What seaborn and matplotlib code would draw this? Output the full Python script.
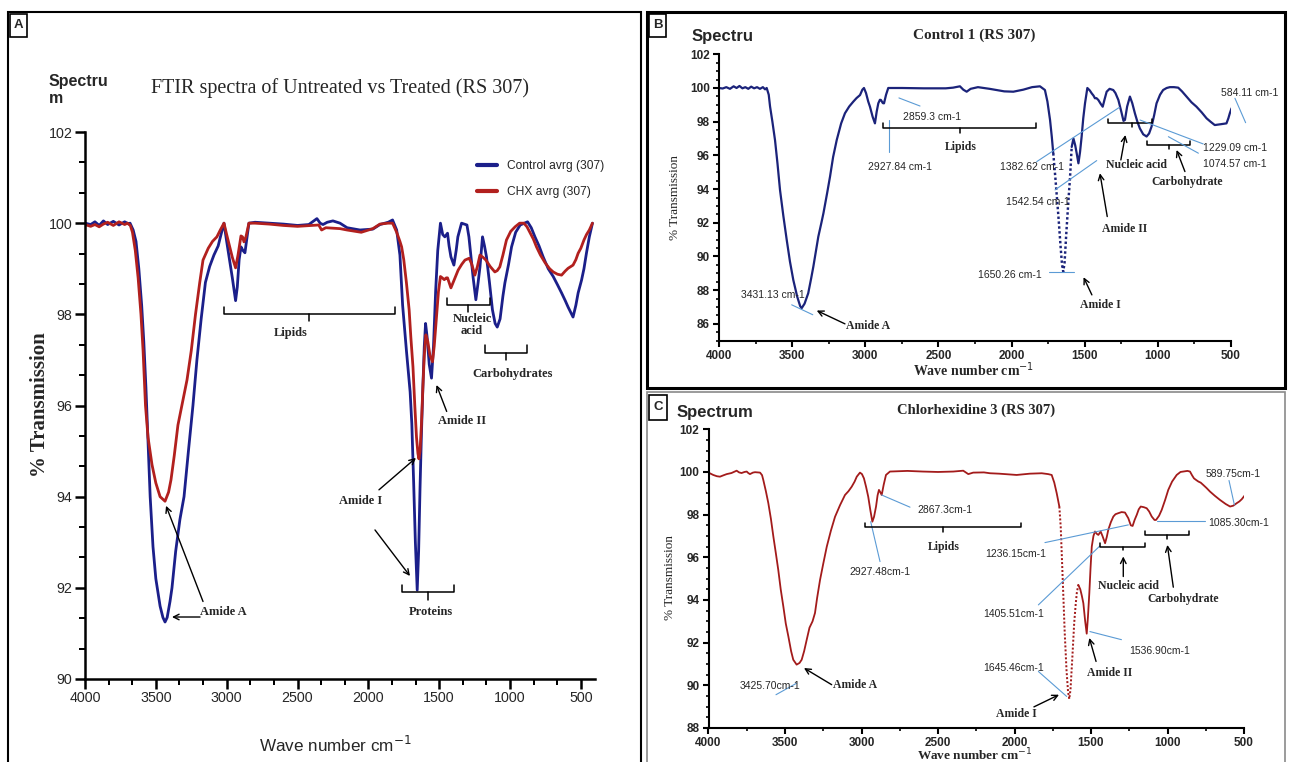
import numpy as np
import pandas as pd
import matplotlib
matplotlib.use("Agg")
import matplotlib.pyplot as plt
from matplotlib.patches import Rectangle
from matplotlib.ticker import MultipleLocator
from matplotlib import font_manager
import seaborn as sns

W, H = 1289, 762

# ---- panel A: averaged spectra (control vs CHX) ----
avg_ctrl_wn = [4000, 3960, 3930, 3900, 3870, 3840, 3800, 3760, 3720, 3690,
               3682, 3660, 3640, 3620, 3600, 3585, 3570, 3555, 3540, 3520,
               3500, 3470, 3450, 3435, 3420, 3400, 3386, 3360, 3330, 3301,
               3270, 3238, 3210, 3180, 3150, 3120, 3090, 3060, 3040, 3019,
               3000, 2980, 2960, 2937, 2925, 2912, 2899, 2885, 2871, 2860,
               2843, 2800, 2700, 2600, 2500, 2420, 2363, 2340, 2320, 2290,
               2250, 2200, 2150, 2059, 1968, 1918, 1860, 1829, 1800, 1777,
               1758, 1731, 1705, 1693, 1680, 1668, 1655, 1645, 1635, 1625,
               1615, 1605, 1596, 1585, 1570, 1554, 1540, 1525, 1510, 1491,
               1475, 1460, 1441, 1430, 1417, 1396, 1380, 1368, 1342, 1304,
               1290, 1278, 1260, 1241, 1225, 1212, 1194, 1180, 1166, 1145,
               1124, 1105, 1090, 1070, 1050, 1036, 1010, 989, 960, 928,
               876, 850, 824, 795, 766, 730, 695, 665, 636, 610,
               590, 555, 535, 519, 495, 478, 460, 440, 418]
avg_ctrl_t = [100.0, 99.97, 100.03, 99.95, 100.05, 99.97, 100.04, 99.96, 100.03, 99.98,
              100.0, 99.85, 99.6, 99.0, 98.2, 97.4, 96.4, 95.2, 94.0, 92.9,
              92.2, 91.6, 91.35, 91.25, 91.35, 91.7, 92.0, 92.8, 93.5, 94.0,
              95.0, 96.0, 97.0, 97.9, 98.7, 99.05, 99.3, 99.5, 99.75, 100.0,
              99.6, 99.2, 98.8, 98.3, 98.6, 99.2, 99.48, 99.4, 99.35, 99.6,
              100.0, 100.02, 100.0, 99.98, 99.95, 99.97, 100.1, 100.0, 99.97, 100.02,
              100.05, 100.0, 99.9, 99.85, 99.87, 99.97, 100.02, 100.07, 99.85, 99.3,
              98.2, 97.2, 96.3, 95.6, 94.3, 93.0, 91.95, 92.8, 94.2, 95.4,
              96.4, 97.3, 97.8, 97.5, 96.9, 96.6, 97.3, 98.5, 99.4, 100.0,
              99.75, 99.7, 99.78, 99.5, 99.26, 99.08, 99.4, 99.7, 100.0, 99.96,
              99.7, 99.34, 98.8, 98.32, 98.7, 99.04, 99.7, 99.5, 99.26, 98.7,
              98.1, 97.8, 97.72, 97.9, 98.4, 98.69, 99.1, 99.48, 99.8, 99.96,
              100.03, 99.9, 99.7, 99.5, 99.26, 99.0, 98.83, 98.65, 98.47, 98.3,
              98.16, 97.94, 98.2, 98.47, 98.75, 99.0, 99.35, 99.7, 100.0]

avg_chx_wn = [4000, 3960, 3930, 3900, 3870, 3840, 3800, 3760, 3720, 3700,
              3680, 3665, 3645, 3625, 3605, 3590, 3573, 3555, 3527, 3500,
              3470, 3435, 3410, 3393, 3370, 3344, 3310, 3280, 3250, 3220,
              3190, 3167, 3130, 3100, 3069, 3045, 3019, 3000, 2980, 2960,
              2937, 2920, 2899, 2888, 2878, 2864, 2843, 2800, 2700, 2600,
              2500, 2400, 2350, 2330, 2300, 2200, 2150, 2050, 1968, 1918,
              1860, 1829, 1800, 1777, 1765, 1750, 1731, 1712, 1700, 1685,
              1672, 1660, 1650, 1643, 1635, 1625, 1615, 1605, 1594, 1580,
              1565, 1547, 1535, 1520, 1505, 1491, 1478, 1464, 1450, 1441,
              1430, 1417, 1395, 1366, 1340, 1318, 1288, 1270, 1248, 1230,
              1212, 1190, 1170, 1140, 1107, 1090, 1072, 1050, 1025, 995,
              964, 932, 902, 880, 860, 835, 813, 785, 752, 720,
              695, 665, 636, 610, 590, 570, 555, 535, 519, 500,
              478, 460, 440, 418]
avg_chx_t = [99.97, 99.93, 99.97, 99.92, 99.98, 100.02, 99.95, 100.03, 99.97, 100.0,
             99.95, 99.8, 99.4, 98.8, 98.0, 97.2, 96.0, 95.3, 94.7, 94.3,
             94.0, 93.9, 94.1, 94.37, 94.9, 95.57, 96.1, 96.56, 97.2, 98.0,
             98.7, 99.19, 99.45, 99.6, 99.7, 99.85, 100.0, 99.75, 99.5, 99.25,
             99.02, 99.3, 99.72, 99.7, 99.59, 99.7, 100.0, 100.0, 99.98, 99.95,
             99.93, 99.95, 99.96, 99.85, 99.9, 99.88, 99.85, 99.8, 99.88, 99.98,
             100.0, 100.0, 99.8, 99.6, 99.48, 99.2, 98.69, 98.1, 97.5, 96.85,
             96.0, 95.3, 94.95, 94.83, 95.0, 95.6, 96.4, 97.1, 97.55, 97.4,
             97.1, 96.96, 97.3, 97.9, 98.5, 98.83, 98.8, 98.76, 98.8, 98.8,
             98.7, 98.58, 98.75, 98.97, 99.1, 99.19, 99.23, 99.1, 98.86, 99.05,
             99.3, 99.25, 99.19, 99.05, 98.93, 98.96, 99.04, 99.3, 99.63, 99.82,
             99.92, 100.0, 100.0, 99.92, 99.8, 99.65, 99.48, 99.3, 99.13, 99.0,
             98.93, 98.88, 98.86, 98.95, 99.01, 99.05, 99.08, 99.2, 99.34, 99.45,
             99.63, 99.75, 99.85, 100.0]

legend_labels = ["Control avrg (307)", "CHX avrg (307)"]

# ---- panel B: Control 1 ----
ctrl1_wn = [4000, 3975, 3950, 3925, 3900, 3880, 3860, 3840, 3820, 3800,
            3780, 3760, 3740, 3720, 3700, 3685, 3674, 3660, 3651, 3635,
            3617, 3600, 3583, 3560, 3537, 3515, 3492, 3465, 3445, 3435,
            3415, 3390, 3370, 3355, 3321, 3300, 3286, 3260, 3241, 3220,
            3195, 3165, 3139, 3110, 3082, 3060, 3036, 3020, 3009, 2995,
            2980, 2968, 2950, 2934, 2922, 2911, 2900, 2893, 2880, 2872,
            2858, 2843, 2750, 2600, 2450, 2400, 2353, 2330, 2307, 2280,
            2230, 2150, 2050, 1988, 1920, 1860, 1806, 1772, 1755, 1737,
            1725, 1715, 1700, 1680, 1665, 1655, 1647, 1638, 1625, 1610,
            1601, 1589, 1577, 1565, 1555, 1543, 1532, 1521, 1510, 1498,
            1482, 1465, 1452, 1440, 1430, 1420, 1407, 1390, 1377, 1365,
            1350, 1330, 1305, 1290, 1270, 1250, 1235, 1225, 1210, 1191,
            1175, 1157, 1140, 1123, 1100, 1077, 1060, 1043, 1025, 1009,
            985, 964, 940, 918, 890, 861, 835, 804, 770, 736,
            700, 667, 640, 611, 570, 531, 518, 508, 496]
ctrl1_t = [100.0, 99.97, 100.05, 99.95, 100.1, 100.0, 100.12, 99.98, 100.05, 99.95,
           100.08, 99.98, 100.05, 99.95, 100.05, 99.92, 100.0, 99.6, 98.9, 98.0,
           96.9, 95.5, 93.95, 92.4, 90.98, 89.7, 88.6, 87.6, 87.05, 86.93,
           87.2, 87.82, 88.7, 89.4, 91.18, 92.0, 92.57, 93.8, 94.74, 95.9,
           96.92, 97.9, 98.5, 98.9, 99.19, 99.4, 99.58, 99.9, 100.0, 99.7,
           99.2, 98.89, 98.3, 97.9, 98.6, 99.09, 99.3, 99.29, 99.1, 99.09,
           99.6, 100.0, 100.0, 99.98, 99.98, 100.02, 100.1, 99.9, 99.78, 99.95,
           100.05, 99.95, 99.8, 99.78, 99.9, 100.05, 100.1, 99.88, 99.2, 98.1,
           97.1, 96.13, 94.6, 92.4, 90.6, 89.5, 89.1, 89.6, 91.5, 93.5,
           94.6, 96.5, 97.0, 96.6, 96.13, 95.53, 96.2, 97.12, 98.2, 99.09,
           100.0, 99.85, 99.68, 99.55, 99.39, 99.4, 99.29, 99.05, 98.89, 99.3,
           99.78, 99.95, 99.88, 99.7, 99.29, 98.6, 98.05, 98.1, 98.9, 99.49,
           99.1, 98.5, 98.0, 97.6, 97.25, 97.12, 97.3, 97.71, 98.4, 99.09,
           99.6, 99.88, 100.0, 100.05, 100.05, 100.02, 99.8, 99.49, 99.15, 98.89,
           98.55, 98.2, 98.0, 97.8, 97.85, 97.9, 98.2, 98.5, 98.8]

# ---- panel C: Chlorhexidine 3 ----
chx3_wn = [4000, 3969, 3945, 3925, 3900, 3881, 3850, 3816, 3800, 3784,
           3765, 3750, 3740, 3729, 3710, 3696, 3663, 3650, 3642, 3625,
           3609, 3592, 3576, 3560, 3544, 3528, 3511, 3495, 3478, 3460,
           3446, 3424, 3405, 3391, 3375, 3358, 3340, 3320, 3304, 3290,
           3271, 3250, 3227, 3200, 3173, 3140, 3108, 3085, 3064, 3045,
           3031, 3010, 2997, 2984, 2970, 2956, 2942, 2929, 2918, 2905,
           2895, 2886, 2877, 2868, 2855, 2840, 2814, 2700, 2600, 2500,
           2400, 2335, 2302, 2270, 2200, 2160, 2100, 1986, 1900, 1822,
           1780, 1757, 1740, 1724, 1707, 1698, 1685, 1672, 1660, 1650,
           1642, 1634, 1622, 1610, 1600, 1593, 1583, 1570, 1560, 1550,
           1538, 1528, 1520, 1511, 1503, 1495, 1484, 1474, 1462, 1452,
           1437, 1425, 1408, 1397, 1387, 1370, 1354, 1340, 1321, 1300,
           1278, 1256, 1240, 1228, 1215, 1201, 1188, 1175, 1155, 1136,
           1120, 1103, 1085, 1075, 1055, 1038, 1015, 995, 970, 940,
           915, 897, 870, 853, 840, 827, 812, 798, 783, 766,
           745, 722, 690, 657, 620, 591, 570, 547, 530, 515,
           493]
chx3_t = [99.97, 99.86, 99.8, 99.78, 99.85, 99.9, 99.95, 100.06, 99.98, 99.95,
          100.0, 100.02, 99.95, 99.9, 99.97, 99.99, 99.97, 99.85, 99.63, 99.1,
          98.54, 97.8, 96.97, 96.2, 95.41, 94.5, 93.7, 92.9, 92.29, 91.6,
          91.2, 90.97, 91.05, 91.2, 91.6, 92.14, 92.7, 93.0, 93.39, 94.1,
          94.94, 95.7, 96.5, 97.25, 97.9, 98.45, 98.92, 99.1, 99.31, 99.55,
          99.78, 99.97, 99.9, 99.7, 99.3, 98.84, 98.2, 97.67, 97.9, 98.38,
          98.9, 99.16, 99.05, 98.92, 99.4, 99.86, 100.02, 100.05, 100.02, 100.0,
          100.02, 100.06, 99.9, 99.97, 99.98, 99.94, 99.92, 99.86, 99.92, 99.94,
          99.9, 99.86, 99.5, 99.0, 98.38, 97.44, 95.0, 92.5, 90.7, 89.7,
          89.36, 89.8, 91.3, 92.9, 93.8, 94.32, 94.71, 94.5, 94.2, 93.85,
          93.0, 92.42, 93.2, 94.32, 95.5, 96.5, 97.0, 97.21, 97.1, 97.05,
          97.21, 97.0, 96.66, 96.95, 97.29, 97.65, 97.91, 98.02, 98.07, 98.12,
          98.1, 97.83, 97.5, 97.47, 97.75, 97.99, 98.25, 98.38, 98.35, 98.3,
          98.15, 97.91, 97.75, 97.75, 97.95, 98.22, 98.7, 99.16, 99.55, 99.86,
          100.0, 100.02, 100.05, 100.02, 99.85, 99.7, 99.62, 99.55, 99.5, 99.39,
          99.25, 99.08, 98.88, 98.69, 98.5, 98.38, 98.42, 98.54, 98.62, 98.72,
          98.92]

x_ticks = [4000, 3500, 3000, 2500, 2000, 1500, 1000, 500]

BLUE, RED = "#1b1f8a", "#b2201e"
B_COL, C_COL = "#1b237a", "#a31b1b"
LEAD = "#5b9bd5"

sns.set_theme(style="ticks")
names = {f.name for f in font_manager.fontManager.ttflist}
NARROW = "Liberation Sans Narrow" if "Liberation Sans Narrow" in names else "Liberation Sans"
ns = 1.0 if NARROW == "Liberation Sans Narrow" else 0.82
SERIF, SANS = "Liberation Serif", "Liberation Sans"
plt.rcParams["font.family"] = [SANS, "DejaVu Sans"]


def fx(px):
    return px / W


def fy(py):
    return 1 - py / H


fig = plt.figure(figsize=(W / 100, H / 100), dpi=100)


def axes_at(x0, y0, x1, y1):
    return fig.add_axes([fx(x0), fy(y1), (x1 - x0) / W, (y1 - y0) / H])


def style(ax, xlim, ylim, yticks, xminor, yminor, fs, fam, wt, lw, maj, mnr):
    ax.set_xlim(*xlim)
    ax.set_ylim(*ylim)
    ax.set_xticks(x_ticks, labels=[str(v) for v in x_ticks], fontsize=fs, family=fam, fontweight=wt)
    ax.set_yticks(yticks, labels=[str(v) for v in yticks], fontsize=fs, family=fam, fontweight=wt)
    ax.xaxis.set_minor_locator(MultipleLocator(xminor))
    ax.yaxis.set_minor_locator(MultipleLocator(yminor))
    sns.despine(ax=ax)
    for s in ["left", "bottom"]:
        ax.spines[s].set_linewidth(lw)
        ax.spines[s].set_color("black")
    ax.tick_params(which="major", length=maj, width=lw, direction="out", color="black", pad=2)
    ax.tick_params(which="minor", length=mnr, width=lw * 0.8, direction="out", color="black")
    ax.set_xlabel("")
    ax.set_ylabel("")
    ax.patch.set_alpha(0)


def bracket(ax, x0, x1, y, up, down, xc=None, lw=1.1):
    xc = (x0 + x1) / 2 if xc is None else xc
    ax.plot([x0, x0, x1, x1], [up, y, y, up], color="black", lw=lw, clip_on=False)
    ax.plot([xc, xc], [y, down], color="black", lw=lw, clip_on=False)


def arrow(ax, tail, head, lw=1.0):
    ax.annotate("", xy=head, xytext=tail, annotation_clip=False,
                arrowprops=dict(arrowstyle="->", color="black", lw=lw,
                                shrinkA=0, shrinkB=0, mutation_scale=10))


def leader(ax, p0, p1):
    ax.plot([p0[0], p1[0]], [p0[1], p1[1]], color=LEAD, lw=0.8, clip_on=False)


def label(ax, x, y, s, size=8.5, **kw):
    ax.text(x, y, s, family=SERIF, fontweight="bold", fontsize=size, ha="center", va="center", **kw)


def peak(ax, x, y, s):
    ax.text(x, y, s, family=SANS, fontsize=7.5, ha="center", va="center")


# ---------------- frames ----------------
fig.add_artist(Rectangle((fx(8), fy(775)), (641 - 8) / W, (775 - 12) / H, transform=fig.transFigure,
                         fill=False, lw=1.5, ec="black"))
fig.add_artist(Rectangle((fx(647), fy(388)), (1285 - 647) / W, (388 - 12) / H, transform=fig.transFigure,
                         fill=False, lw=2.2, ec="black"))
fig.add_artist(Rectangle((fx(647), fy(775)), (1285 - 647) / W, (775 - 392) / H, transform=fig.transFigure,
                         fill=False, lw=1.2, ec="#8a8a8a"))
for lab, (x0, y0, x1, y1) in zip("ABC", [(10, 14, 27, 37), (649, 14, 666, 37), (649, 395, 667, 420)]):
    fig.add_artist(Rectangle((fx(x0), fy(y1)), (x1 - x0) / W, (y1 - y0) / H, transform=fig.transFigure,
                             fill=True, fc="white", lw=1.2, ec="black"))
    fig.text(fx((x0 + x1) / 2), fy((y0 + y1) / 2), lab, family=SANS, fontweight="bold",
             fontsize=9.5, ha="center", va="center")

# ---------------- panel A ----------------
ax_a = axes_at(85, 132, 595, 679)
df_a = pd.concat([
    pd.DataFrame({"wn": avg_ctrl_wn, "T": avg_ctrl_t, "sample": legend_labels[0]}),
    pd.DataFrame({"wn": avg_chx_wn, "T": avg_chx_t, "sample": legend_labels[1]}),
])
sns.lineplot(data=df_a, x="wn", y="T", hue="sample", hue_order=legend_labels,
             palette=[BLUE, RED], estimator=None, sort=False, lw=2.0, ax=ax_a)
style(ax_a, (4000, 400), (90, 102), list(range(90, 103, 2)), 500 / 3, 2 / 3,
      12.5 * ns, NARROW, "normal", 1.8, 7, 4.5)
handles, labels = ax_a.get_legend_handles_labels()
leg = ax_a.legend(handles, labels, loc="upper left", bbox_to_anchor=(fx(477), fy(160)),
                  bbox_transform=fig.transFigure, frameon=False, borderpad=0, borderaxespad=0,
                  handlelength=1.7, handletextpad=0.8, labelspacing=1.15,
                  prop={"family": NARROW, "size": 10.5 * ns})
for h in leg.legend_handles:
    h.set_linewidth(3)

fig.text(fx(340), fy(88), "FTIR spectra of Untreated vs Treated (RS 307)", family=SERIF,
         fontsize=14.5, ha="center", va="center")
fig.text(fx(49), fy(90), "Spectru\nm", family=SANS, fontweight="bold", fontsize=11.5,
         ha="left", va="center", linespacing=1.1)
fig.text(fx(335), fy(745), "Wave number cm$^{-1}$", family=NARROW, fontsize=15 * ns,
         ha="center", va="center")
fig.text(fx(40), fy(405), "% Transmission", family=SERIF, fontweight="bold", fontsize=15,
         rotation=90, ha="center", va="center")

bracket(ax_a, 3019, 1812, 98.0, 98.15, 97.85, xc=2418)
label(ax_a, 2546, 97.6, "Lipids", 9)
bracket(ax_a, 1445, 1140, 98.2, 98.36, 98.05, xc=1297)
label(ax_a, 1268, 97.77, "Nucleic\nacid", 9, linespacing=1.0)
bracket(ax_a, 1177, 881, 97.15, 97.33, 97.0, xc=1029)
label(ax_a, 980, 96.7, "Carbohydrates", 9)
label(ax_a, 1340, 95.66, "Amide II", 9)
arrow(ax_a, (1447, 95.87), (1519, 96.45))
label(ax_a, 2052, 93.9, "Amide I", 9)
arrow(ax_a, (1925, 94.15), (1664, 94.85))
arrow(ax_a, (1953, 93.27), (1706, 92.26))
bracket(ax_a, 1763, 1396, 91.9, 92.07, 91.74, xc=1579)
label(ax_a, 1558, 91.47, "Proteins", 9)
label(ax_a, 3026, 91.47, "Amide A", 9)
arrow(ax_a, (3188, 91.36), (3386, 91.36))
arrow(ax_a, (3167, 91.7), (3428, 93.8))


# ---------------- panels B and C ----------------
def spectrum(ax, wn, t, lo, hi, color, lw):
    wn = np.asarray(wn)
    t = np.asarray(t)
    left, mid, right = wn >= hi, (wn <= hi) & (wn >= lo), wn <= lo
    sns.lineplot(x=wn[left], y=t[left], color=color, lw=lw, estimator=None, sort=False, ax=ax)
    sns.lineplot(x=wn[mid], y=t[mid], color=color, lw=lw * 1.1, linestyle=(0, (1, 1)),
                 estimator=None, sort=False, ax=ax)
    sns.lineplot(x=wn[right], y=t[right], color=color, lw=lw, estimator=None, sort=False, ax=ax)


ax_b = axes_at(719, 54.3, 1231, 340.7)
spectrum(ax_b, ctrl1_wn, ctrl1_t, 1589, 1715, B_COL, 1.6)
style(ax_b, (4000, 500), (85, 102), list(range(86, 103, 2)), 250, 0.5,
      8.5, SANS, "bold", 1.5, 4.5, 2.5)
fig.text(fx(692), fy(36), "Spectru", family=SANS, fontweight="bold", fontsize=12, ha="left", va="center")
fig.text(fx(974), fy(35), "Control 1 (RS 307)", family=SERIF, fontweight="bold", fontsize=11,
         ha="center", va="center")
fig.text(fx(974), fy(370), "Wave number cm$^{-1}$", family=SERIF, fontweight="bold", fontsize=10,
         ha="center", va="center")
fig.text(fx(675), fy(197), "% Transmission", family=SERIF, fontsize=9.5, rotation=90,
         ha="center", va="center")

peak(ax_b, 2544, 98.28, "2859.3 cm-1")
leader(ax_b, (2770, 99.41), (2626, 98.93))
peak(ax_b, 2763, 95.33, "2927.84 cm-1")
leader(ax_b, (2836, 98.1), (2836, 96.2))
bracket(ax_b, 2881, 1833, 97.6, 97.9, 97.3, xc=2354)
label(ax_b, 2347, 96.52, "Lipids")
peak(ax_b, 1862, 95.3, "1382.62 cm-1")
leader(ax_b, (1828, 95.63), (1263, 98.85))
peak(ax_b, 1817, 93.26, "1542.54 cm-1")
leader(ax_b, (1703, 93.95), (1418, 95.69))
peak(ax_b, 2012, 88.91, "1650.26 cm-1")
leader(ax_b, (1746, 89.1), (1570, 89.1))
label(ax_b, 1391, 87.13, "Amide I")
arrow(ax_b, (1451, 87.72), (1508, 88.77))
label(ax_b, 1228, 91.64, "Amide II")
arrow(ax_b, (1346, 92.37), (1396, 94.94))
label(ax_b, 1145, 95.43, "Nucleic acid")
arrow(ax_b, (1253, 95.73), (1222, 97.21))
bracket(ax_b, 1339, 1043, 97.9, 98.14, 97.67, xc=1178)
bracket(ax_b, 1077, 778, 96.62, 96.87, 96.38, xc=922)
label(ax_b, 803, 94.44, "Carbohydrate")
arrow(ax_b, (815, 95.04), (872, 96.32))
peak(ax_b, 473, 96.42, "1229.09 cm-1")
leader(ax_b, (1122, 98.1), (690, 96.68))
peak(ax_b, 473, 95.47, "1074.57 cm-1")
leader(ax_b, (928, 97.11), (723, 96.13))
peak(ax_b, 370, 99.68, "584.11 cm-1")
leader(ax_b, (473, 99.39), (400, 97.94))
peak(ax_b, 3629, 87.72, "3431.13 cm-1")
leader(ax_b, (3503, 87.13), (3359, 86.54))
label(ax_b, 2979, 85.88, "Amide A")
arrow(ax_b, (3139, 86.0), (3332, 86.79))

ax_c = axes_at(708.5, 429.3, 1244, 728)
spectrum(ax_c, chx3_wn, chx3_t, 1583, 1707, C_COL, 1.3)
style(ax_c, (4000, 500), (88, 102), list(range(88, 103, 2)), 250, 0.5,
      8.5, SANS, "bold", 1.5, 4.5, 2.5)
fig.text(fx(677), fy(412), "Spectrum", family=SANS, fontweight="bold", fontsize=12, ha="left", va="center")
fig.text(fx(976), fy(410), "Chlorhexidine 3 (RS 307)", family=SERIF, fontweight="bold", fontsize=10.5,
         ha="center", va="center")
fig.text(fx(975), fy(747), "Wave number cm$^{-1}$", family=SERIF, fontweight="bold", fontsize=9.5,
         ha="center", va="top")
fig.text(fx(670), fy(577), "% Transmission", family=SERIF, fontsize=9.5, rotation=90,
         ha="center", va="center")

peak(ax_c, 2454, 98.22, "2867.3cm-1")
leader(ax_c, (2868, 98.92), (2683, 98.35))
peak(ax_c, 2879, 95.33, "2927.48cm-1")
leader(ax_c, (2940, 97.67), (2879, 95.8))
bracket(ax_c, 2974, 1958, 97.41, 97.63, 97.2, xc=2467)
label(ax_c, 2465, 96.5, "Lipids")
peak(ax_c, 1990, 96.16, "1236.15cm-1")
leader(ax_c, (1801, 96.69), (1256, 97.52))
peak(ax_c, 2004, 93.35, "1405.51cm-1")
leader(ax_c, (1844, 93.77), (1441, 96.54))
bracket(ax_c, 1441, 1147, 96.48, 96.66, 96.32, xc=1289)
arrow(ax_c, (1289, 95.1), (1289, 96.04))
label(ax_c, 1256, 94.66, "Nucleic acid")
bracket(ax_c, 1147, 858, 97.05, 97.25, 96.86, xc=1001)
arrow(ax_c, (962, 94.6), (1001, 96.58))
label(ax_c, 897, 94.04, "Carbohydrate")
peak(ax_c, 537, 97.63, "1085.30cm-1")
leader(ax_c, (1071, 97.72), (755, 97.72))
peak(ax_c, 570, 99.91, "589.75cm-1")
leader(ax_c, (598, 99.6), (563, 98.46))
peak(ax_c, 1049, 91.62, "1536.90cm-1")
leader(ax_c, (1507, 92.52), (1301, 92.14))
label(ax_c, 1376, 90.58, "Amide II")
arrow(ax_c, (1467, 91.12), (1511, 92.22))
peak(ax_c, 2008, 90.81, "1645.46cm-1")
leader(ax_c, (1844, 90.65), (1659, 89.48))
label(ax_c, 1990, 88.67, "Amide I")
arrow(ax_c, (1873, 88.99), (1709, 89.56))
peak(ax_c, 3598, 89.95, "3425.70cm-1")
leader(ax_c, (3559, 89.56), (3424, 90.1))
label(ax_c, 3042, 90.03, "Amide A")
arrow(ax_c, (3195, 90.03), (3376, 90.81))

fig.savefig("out.png", dpi=100)
